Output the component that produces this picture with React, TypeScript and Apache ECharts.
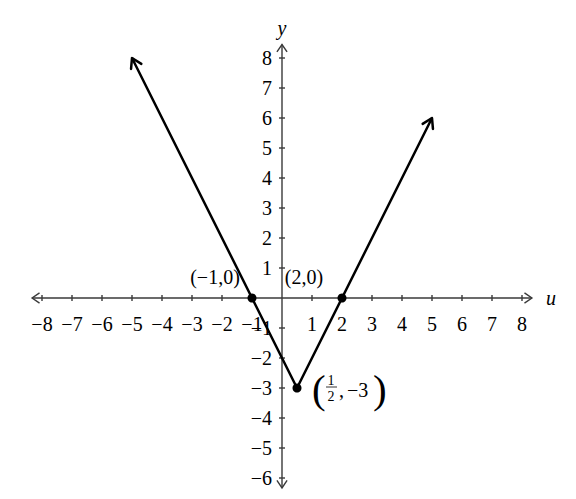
import { useRef, useEffect } from "react"
import * as echarts from "echarts"

// axis ticks and their labels
const xTicks = [-8, -7, -6, -5, -4, -3, -2, -1, 0, 1, 2, 3, 4, 5, 6, 7, 8]
const yTicks = [-6, -5, -4, -3, -2, -1, 0, 1, 2, 3, 4, 5, 6, 7, 8]
// where the drawn axis lines (with arrows) end, in data units
const xAxisEnds = [-8.33, 8.33]
const yAxisEnds = [-6.33, 8.45]

// the graph: y = |2u - 1| - 3 , drawn from u = -5 to u = 5
const vLine = [
  [-5, 8],
  [0.5, -3],
  [5, 6],
]

// marked points
const points = [
  [-1, 0],
  [2, 0],
  [0.5, -3],
]
const pointLabels = ["(−1,0)", "(2,0)", ""]
const labelOffsets = [
  [-37, -2],
  [-38, -2],
  [0, 0],
]
const vertexLabel = { num: "1", den: "2", comma: ",", rest: "−3" }

const FONT = "'Liberation Serif', 'Times New Roman', serif"
const FS = 20
const fmt = (v: number) => (v === 0 ? "" : String(v).replace("-", "−"))

// plot area
const GRID = { left: 42, top: 58, width: 480, height: 420 }
const xMin = xTicks[0]
const xMax = xTicks[xTicks.length - 1]
const yMin = yTicks[0]
const yMax = yTicks[yTicks.length - 1]

function arrowHead(tip: number[], from: number[], len: number, spread: number) {
  const a = Math.atan2(tip[1] - from[1], tip[0] - from[0])
  return [
    [tip[0] - len * Math.cos(a - spread), tip[1] - len * Math.sin(a - spread)],
    tip,
    [tip[0] - len * Math.cos(a + spread), tip[1] - len * Math.sin(a + spread)],
  ]
}

export default function App() {
  const chartRef = useRef<HTMLDivElement>(null)

  useEffect(() => {
    if (!chartRef.current) return
    const chart = echarts.init(chartRef.current, undefined, { renderer: "svg" })

    const axisStyle = { stroke: "#3a3a3a", lineWidth: 1.4, fill: "none" }
    // move the axes from the grid's edges onto the origin
    const xAxisOffset = -(GRID.height * (0 - yMin)) / (yMax - yMin)
    const yAxisOffset = -(GRID.width * (0 - xMin)) / (xMax - xMin)

    chart.setOption({
      animation: false,
      grid: { ...GRID, containLabel: false, outerBoundsMode: "none" },
      xAxis: {
        type: "value",
        min: xMin,
        max: xMax,
        interval: 1,
        offset: xAxisOffset,
        name: "u",
        nameLocation: "end",
        nameGap: 24,
        nameTextStyle: { fontFamily: FONT, fontSize: FS, fontStyle: "italic", color: "#000", align: "left" },
        axisLine: { show: false, onZero: false },
        axisTick: { show: false },
        splitLine: { show: false },
        axisLabel: { formatter: fmt, margin: 16, fontFamily: FONT, fontSize: FS, color: "#000" },
      },
      yAxis: {
        type: "value",
        min: yMin,
        max: yMax,
        interval: 1,
        offset: yAxisOffset,
        name: "y",
        nameLocation: "end",
        nameGap: 20,
        nameTextStyle: { fontFamily: FONT, fontSize: FS, fontStyle: "italic", color: "#000" },
        axisLine: { show: false, onZero: false },
        axisTick: { show: false },
        splitLine: { show: false },
        axisLabel: { formatter: fmt, margin: 10, fontFamily: FONT, fontSize: FS, color: "#000" },
      },
      series: [
        {
          // axis lines, arrows and tick marks
          type: "custom",
          silent: true,
          z: 1,
          data: [[0, 0]],
          renderItem: (_params: any, api: any) => {
            const xl = api.coord([xAxisEnds[0], 0])
            const xr = api.coord([xAxisEnds[1], 0])
            const yb = api.coord([0, yAxisEnds[0]])
            const yt = api.coord([0, yAxisEnds[1]])
            const children: any[] = [
              { type: "line", shape: { x1: xl[0], y1: xl[1], x2: xr[0], y2: xr[1] }, style: axisStyle },
              { type: "line", shape: { x1: yb[0], y1: yb[1], x2: yt[0], y2: yt[1] }, style: axisStyle },
              { type: "polyline", shape: { points: arrowHead(xr, xl, 9, 0.6) }, style: axisStyle },
              { type: "polyline", shape: { points: arrowHead(xl, xr, 9, 0.6) }, style: axisStyle },
              { type: "polyline", shape: { points: arrowHead(yt, yb, 9, 0.6) }, style: axisStyle },
              { type: "polyline", shape: { points: arrowHead(yb, yt, 9, 0.6) }, style: axisStyle },
            ]
            xTicks.forEach((t) => {
              if (t === 0) return
              const p = api.coord([t, 0])
              children.push({ type: "line", shape: { x1: p[0], y1: p[1] - 3, x2: p[0], y2: p[1] + 3 }, style: axisStyle })
            })
            yTicks.forEach((t) => {
              if (t === 0) return
              const p = api.coord([0, t])
              children.push({ type: "line", shape: { x1: p[0] - 3, y1: p[1], x2: p[0] + 3, y2: p[1] }, style: axisStyle })
            })
            return { type: "group", children }
          },
        },
        {
          type: "line",
          data: vLine,
          symbol: "none",
          z: 3,
          lineStyle: { color: "#000", width: 2.5 },
        },
        {
          // arrowheads on the graph's ends and the vertex label
          type: "custom",
          silent: true,
          z: 4,
          data: [[0, 0]],
          renderItem: (_params: any, api: any) => {
            const n = vLine.length
            const first = api.coord(vLine[0])
            const second = api.coord(vLine[1])
            const last = api.coord(vLine[n - 1])
            const prev = api.coord(vLine[n - 2])
            const st = { stroke: "#000", lineWidth: 2.5, fill: "none", lineJoin: "round", lineCap: "round" }
            const v = api.coord(points[2])
            const ts = (size: number) => ({ fontFamily: FONT, fontSize: size, fill: "#000" })
            return {
              type: "group",
              children: [
                { type: "polyline", shape: { points: arrowHead(first, second, 11, 0.55) }, style: st },
                { type: "polyline", shape: { points: arrowHead(last, prev, 11, 0.55) }, style: st },
                {
                  type: "text",
                  x: v[0] + 15,
                  y: v[1] + 1,
                  style: { ...ts(41), text: "(", align: "left", verticalAlign: "middle" },
                },
                {
                  type: "text",
                  x: v[0] + 34,
                  y: v[1] - 8,
                  style: { ...ts(14), text: vertexLabel.num, align: "center", verticalAlign: "middle" },
                },
                {
                  type: "line",
                  shape: { x1: v[0] + 29, y1: v[1] - 1, x2: v[0] + 40, y2: v[1] - 1 },
                  style: { stroke: "#000", lineWidth: 0.8 },
                },
                {
                  type: "text",
                  x: v[0] + 34,
                  y: v[1] + 8,
                  style: { ...ts(14), text: vertexLabel.den, align: "center", verticalAlign: "middle" },
                },
                {
                  type: "text",
                  x: v[0] + 42,
                  y: v[1] + 2,
                  style: { ...ts(FS), text: vertexLabel.comma, align: "left", verticalAlign: "middle" },
                },
                {
                  type: "text",
                  x: v[0] + 50,
                  y: v[1] + 2,
                  style: { ...ts(FS), text: vertexLabel.rest, align: "left", verticalAlign: "middle" },
                },
                {
                  type: "text",
                  x: v[0] + 76,
                  y: v[1] + 1,
                  style: { ...ts(41), text: ")", align: "left", verticalAlign: "middle" },
                },
              ],
            }
          },
        },
        {
          type: "scatter",
          z: 5,
          symbolSize: 9,
          itemStyle: { color: "#000", opacity: 1 },
          data: points.map((p, i) => ({
            value: p,
            label: {
              show: pointLabels[i] !== "",
              formatter: pointLabels[i],
              position: "top",
              distance: 5,
              offset: labelOffsets[i],
              fontFamily: FONT,
              fontSize: FS,
              color: "#000",
              textBorderWidth: 0,
            },
          })),
        },
      ],
    })

    return () => {
      chart.dispose()
    }
  }, [])

  return (
    <div
      ref={chartRef}
      style={{ position: "absolute", left: 0, top: 0, width: 576, height: 499 }}
    />
  )
}
